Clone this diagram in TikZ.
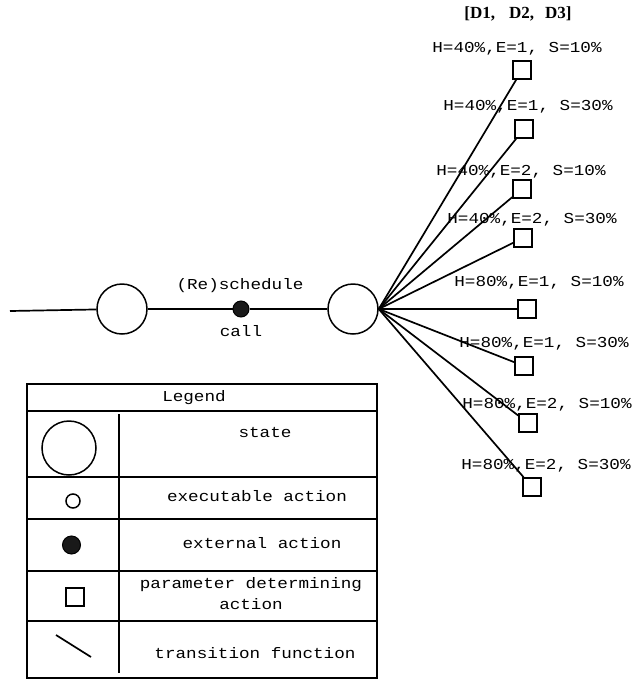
\documentclass[tikz,border=0pt]{standalone}
\usepackage{fontspec}
\newfontfamily\mono[FakeStretch=1.16]{Liberation Mono}
\newfontfamily\hdr{Liberation Serif}
\begin{document}
\begin{tikzpicture}[x=1pt,y=-1pt,
  lw/.style={line width=1.7pt},
  state/.style={circle,draw,line width=1.5pt,minimum size=50pt,inner sep=0pt},
  ext/.style={circle,fill=black!90,draw,line width=1pt,minimum size=16pt,inner sep=0pt},
  exe/.style={circle,draw,line width=1.5pt,minimum size=14pt,inner sep=0pt},
  param/.style={rectangle,draw,line width=1.6pt,minimum size=18pt,inner sep=0pt},
  lbl/.style={font=\mono\fontsize{15.2}{21}\selectfont,inner sep=0pt},
  cell/.style={line width=1.6pt}]
\path[use as bounding box] (0,0) rectangle (633,681);

% header
\node[font=\hdr\bfseries\fontsize{17}{19}\selectfont,inner sep=0pt] (hd) at (518,14) {[D1,\hspace{14pt}D2,\hspace{11pt}D3]};

% main chain
\coordinate (start) at (10,311);
\node[state] (c1) at (122,309) {};
\node[ext] (dot) at (241,309) {};
\node[state] (c2) at (353,309) {};
\node[lbl] (res) at (240,286) {(Re)schedule};
\node[lbl] (call) at (241,331) {call};
\draw[lw] (start) -- (c1);
\draw[lw] (c1) -- (dot);
\draw[lw] (dot) -- (c2);
\coordinate (fan) at (c2.east);

% parameter squares
\node[param] (s1) at (522,70) {};
\node[param] (s2) at (524,129) {};
\node[param] (s3) at (522,189) {};
\node[param] (s4) at (523,238) {};
\node[param] (s5) at (527,309) {};
\node[param] (s6) at (524,366) {};
\node[param] (s7) at (528,423) {};
\node[param] (s8) at (532,487) {};
\foreach \s in {s1,s2,s3,s4,s5,s6,s7,s8} \draw[lw] (fan) -- (\s);

% labels
\node[lbl] (l1) at (517,49) {H=40\%,E=1, S=10\%};
\node[lbl] (l2) at (528,107) {H=40\%,E=1, S=30\%};
\node[lbl] (l3) at (521,172) {H=40\%,E=2, S=10\%};
\node[lbl] (l4) at (532,220) {H=40\%,E=2, S=30\%};
\node[lbl] (l5) at (539,283) {H=80\%,E=1, S=10\%};
\node[lbl] (l6) at (544,344) {H=80\%,E=1, S=30\%};
\node[lbl] (l7) at (547,405) {H=80\%,E=2, S=10\%};
\node[lbl] (l8) at (546,466) {H=80\%,E=2, S=30\%};

% legend
\draw[cell] (27,384) rectangle (377,678);
\draw[cell] (27,411) -- (377,411);
\draw[cell] (27,477) -- (377,477);
\draw[cell] (27,519) -- (377,519);
\draw[cell] (27,571) -- (377,571);
\draw[cell] (27,621) -- (377,621);
\draw[cell] (119,414) -- (119,673);
\node[lbl] (lg) at (194,398) {Legend};
\node[state,minimum size=54pt] (ls) at (69,448) {};
\node[lbl] (lst) at (265,433) {state};
\node[exe] (le) at (73,501) {};
\node[lbl] (let) at (257,496) {executable action};
\node[ext,minimum size=18pt] (lx) at (71.5,545) {};
\node[lbl] (lxt) at (262,543) {external action};
\node[param] (lp) at (75,597) {};
\node[lbl,align=center] (lpt) at (251,594) {parameter determining\\action};
\coordinate (ta) at (56,635);
\coordinate (tb) at (91,657);
\draw[lw] (ta) -- (tb);
\node[lbl] (ltt) at (255,653) {transition function};
\end{tikzpicture}
\end{document}
